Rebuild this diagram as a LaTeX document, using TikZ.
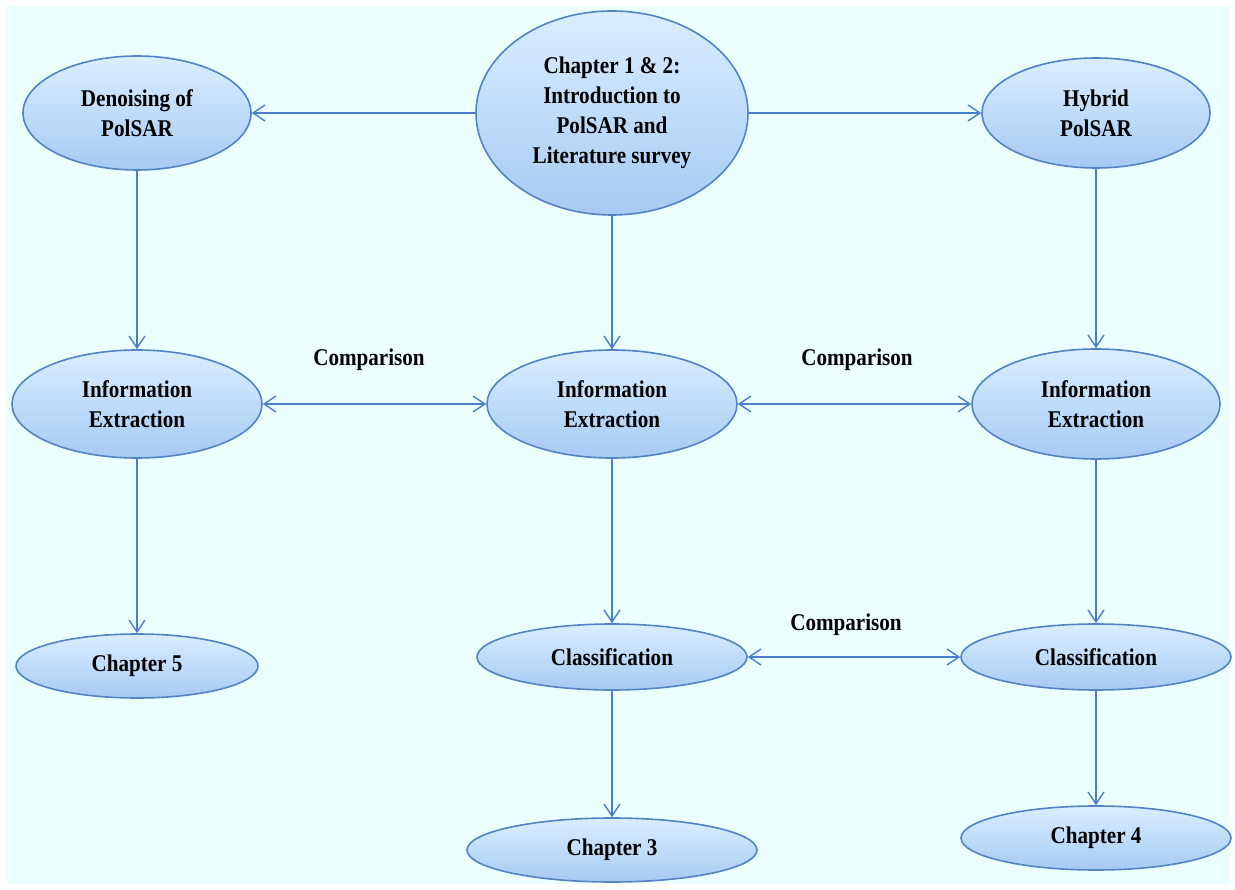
\documentclass[tikz,border=0pt]{standalone}
\usepackage{fontspec}
\setmainfont{Liberation Serif}[FakeStretch=0.88]
\usetikzlibrary{shapes.geometric,arrows.meta}
\definecolor{bgc}{HTML}{EBFFFF}
\definecolor{edgec}{HTML}{5383C3}
\definecolor{topc}{HTML}{DAEEFF}
\definecolor{botc}{HTML}{A6CAF4}
\definecolor{linec}{HTML}{4A7EC8}
\begin{document}
\begin{tikzpicture}[x=1pt,y=-1pt,
  oval/.style={ellipse, draw=edgec, line width=1.6pt, top color=topc, bottom color=botc,
    inner sep=0pt, font=\fontsize{24}{30}\selectfont\bfseries, align=center, text=black},
  conn/.style={draw=linec, line width=1.4pt, -{Straight Barb[length=12pt,width=16pt]}},
  both/.style={draw=linec, line width=1.4pt, {Straight Barb[length=12pt,width=16pt]}-{Straight Barb[length=12pt,width=16pt]}},
  lbl/.style={font=\fontsize{24}{30}\selectfont\bfseries, text=black}]
\useasboundingbox (0,0) rectangle (1235,890);
\fill[white] (0,0) rectangle (1235,890);
\fill[bgc] (6,6) rectangle (1229,884);
% nodes
\node[oval, minimum width=272pt, minimum height=204pt] (ch12) at (612,113) {Chapter 1 \& 2:\\Introduction to\\PolSAR and\\Literature survey};
\node[oval, minimum width=228pt, minimum height=114pt] (den) at (137,113) {Denoising of\\PolSAR};
\node[oval, minimum width=228pt, minimum height=110pt] (hyb) at (1096,113) {Hybrid\\PolSAR};
\node[oval, minimum width=250pt, minimum height=108pt] (infL) at (137,404) {Information\\Extraction};
\node[oval, minimum width=250pt, minimum height=108pt] (infM) at (612,404) {Information\\Extraction};
\node[oval, minimum width=248pt, minimum height=110pt] (infR) at (1096,404) {Information\\Extraction};
\node[oval, minimum width=242pt, minimum height=64pt] (ch5) at (137,666) {Chapter 5};
\node[oval, minimum width=270pt, minimum height=66pt] (clM) at (612,657) {Classification};
\node[oval, minimum width=270pt, minimum height=66pt] (clR) at (1096,657) {Classification};
\node[oval, minimum width=290pt, minimum height=64pt] (ch3) at (612,850) {Chapter 3};
\node[oval, minimum width=270pt, minimum height=64pt] (ch4) at (1096,838) {Chapter 4};
% labels
\node[lbl] (cmp1) at (369,360) {Comparison};
\node[lbl] (cmp2) at (857,360) {Comparison};
\node[lbl] (cmp3) at (846,625) {Comparison};
% connectors
\draw[conn] (ch12) -- (den);
\draw[conn] (ch12) -- (hyb);
\draw[conn] (ch12) -- (infM);
\draw[conn] (den) -- (infL);
\draw[conn] (hyb) -- (infR);
\draw[conn] (infL) -- (ch5);
\draw[conn] (infM) -- (clM);
\draw[conn] (infR) -- (clR);
\draw[conn] (clM) -- (ch3);
\draw[conn] (clR) -- (ch4);
\draw[both] (infL.east) -- (infM.west);
\draw[both] (infM.east) -- (infR.west);
\draw[both] (clM.east) -- (clR.west);
\end{tikzpicture}
\end{document}
